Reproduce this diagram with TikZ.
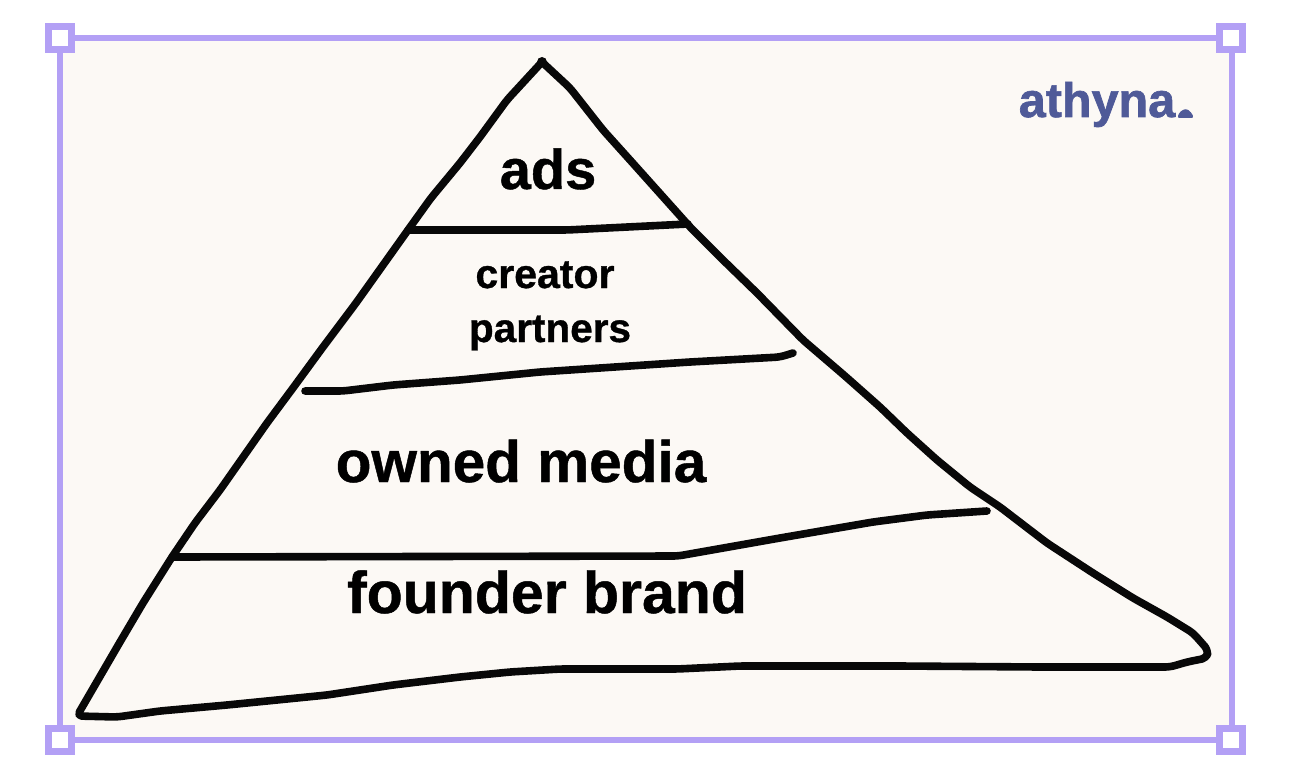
\documentclass[tikz,border=0pt]{standalone}
\usepackage{fontspec}
\setmainfont{Liberation Sans}[BoldFeatures={FakeBold=0.8}]
\newfontfamily\logofont{Liberation Sans}[BoldFeatures={FakeBold=1.4}]
\definecolor{frame}{HTML}{B3A0F5}
\definecolor{paper}{HTML}{FCF9F5}
\definecolor{logo}{HTML}{4F5A98}
\tikzset{
 px/.style={x=1pt,y=-1pt},
 sketch/.style={line width=7.6pt,line cap=round,line join=round,rounded corners=5pt,draw=black!97},
 handle/.style={draw=frame,fill=white,line width=6.5pt,minimum size=23pt,inner sep=0pt,rectangle},
 lab/.style={inner sep=0pt,text=black,anchor=base}
}
\begin{document}
\begin{tikzpicture}[px]
\useasboundingbox (0,0) rectangle (1292,778);
\fill[white] (0,0) rectangle (1292,778);
\draw[draw=frame,fill=paper,line width=6.5pt] (60,38) rectangle (1232,740);
\node[handle] (h1) at (60,38) {};
\node[handle] (h2) at (1231,38) {};
\node[handle] (h3) at (60,740) {};
\node[handle] (h4) at (1231,740) {};
\draw[sketch] (542,62) -- (507,100) -- (480,137) -- (460,163) -- (431,198) -- (408,230) -- (356,303) -- (323,347) -- (293,388) -- (267,423) -- (220,490) -- (195,523) -- (172,557) -- (143,603) -- (120,642) -- (77,716)
 -- (117,717) -- (160,711) -- (227,705) -- (327,695) -- (393,685) -- (460,677) -- (510,672) -- (560,669) -- (677,669) -- (740,666) -- (900,666) -- (1040,667) -- (1170,667) -- (1187,662) -- (1207,658) -- (1208,650) -- (1193,633) -- (1167,617) -- (1133,598) -- (1093,573) -- (1047,543) -- (1000,507) -- (970,487) -- (937,460) -- (907,433) -- (880,407) -- (845,376) -- (803,340) -- (757,293) -- (723,260) -- (690,227) -- (630,160) -- (603,130) -- (570,88) -- (542,62);
\fill[black!97] (542,62) circle (5pt);
\draw[sketch] (408,230) -- (567,230) -- (688,224);
\draw[sketch] (305,391) -- (343,391) -- (393,385) -- (460,380) -- (540,372) -- (690,362) -- (780,357) -- (793,353);
\draw[sketch] (172,557) -- (678,556) -- (780,538) -- (873,522) -- (927,515) -- (987,511);
\node[lab,font=\bfseries\fontsize{56}{56}\selectfont] (ads) at (548,189) {ads};
\node[lab,font=\bfseries\fontsize{41}{41}\selectfont] (c) at (545,288) {creator};
\node[lab,font=\bfseries\fontsize{40.5}{41}\selectfont] (p) at (550,342) {partners};
\node[lab,font=\bfseries\fontsize{58.5}{59}\selectfont] (o) at (521,482) {owned media};
\node[lab,font=\bfseries\fontsize{59}{59}\selectfont] (f) at (547,613) {founder brand};
\node[lab,text=logo,font=\logofont\bfseries\fontsize{48.5}{49}\selectfont] (l) at (1097,117) {athyna};
\fill[logo,rounded corners=2.5pt] (1177,118) -- (1180,111.5) -- (1186,108.5) -- (1191,112) -- (1194,118) -- cycle;
\end{tikzpicture}
\end{document}
